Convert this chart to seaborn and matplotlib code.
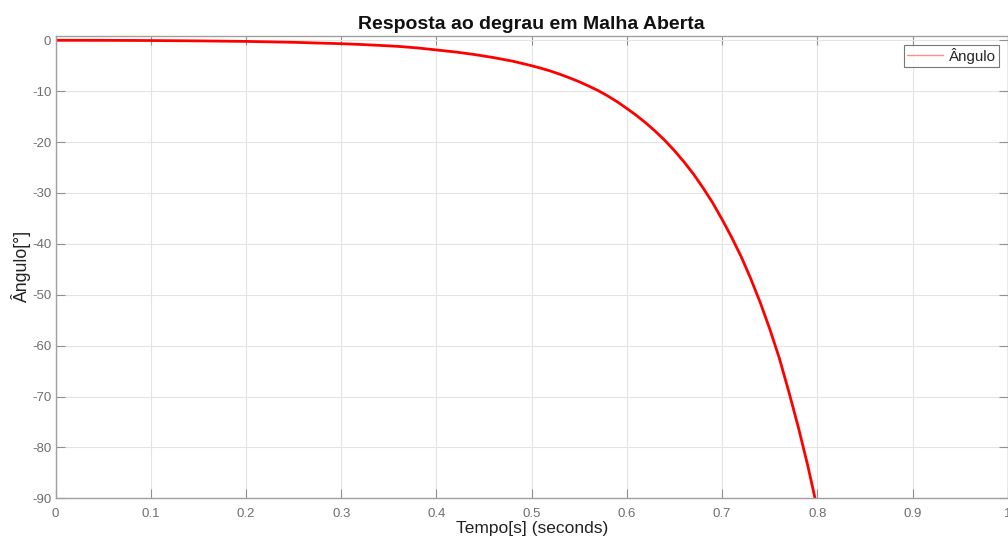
import numpy as np
import pandas as pd
import matplotlib
matplotlib.use("Agg")
import matplotlib.pyplot as plt
import seaborn as sns

# Data read (and visually smoothed) from the reference picture
tempo = [0.0, 0.05, 0.10, 0.15, 0.20, 0.25, 0.30, 0.32, 0.34, 0.36, 0.38, 0.40,
         0.42, 0.44, 0.46, 0.48, 0.50, 0.51, 0.52, 0.53, 0.54, 0.55, 0.56, 0.57,
         0.58, 0.59, 0.60, 0.61, 0.62, 0.63, 0.64, 0.65, 0.66, 0.67, 0.68, 0.69,
         0.70, 0.71, 0.72, 0.73, 0.74, 0.75, 0.76, 0.77, 0.78, 0.79, 0.7976, 0.80]
angulo = [0.0, -0.01, -0.05, -0.12, -0.22, -0.40, -0.67, -0.82, -1.0, -1.2, -1.5, -1.9,
          -2.3, -2.8, -3.4, -4.1, -5.0, -5.5, -6.05, -6.7, -7.4, -8.15, -9.0, -9.9,
          -10.95, -12.1, -13.4, -14.76, -16.26, -17.9, -19.7, -21.7, -23.9, -26.3, -29.0, -31.9,
          -35.2, -38.7, -42.5, -46.8, -51.5, -56.7, -62.4, -69.0, -76.0, -83.6, -90.0, -92.3]

title = "Resposta ao degrau em Malha Aberta"
xlabel = "Tempo[s] (seconds)"
ylabel = "Ângulo[°]"
series_name = "Ângulo"
xticks = [0, 0.1, 0.2, 0.3, 0.4, 0.5, 0.6, 0.7, 0.8, 0.9, 1]
xticklabels = ["0", "0.1", "0.2", "0.3", "0.4", "0.5", "0.6", "0.7", "0.8", "0.9", "1"]
yticks = [0, -10, -20, -30, -40, -50, -60, -70, -80, -90]

sns.set_theme(style="white")
plt.rcParams['font.family'] = ['Liberation Sans', 'DejaVu Sans']

df = pd.DataFrame({"t": tempo, "y": angulo, "s": series_name})

fig = plt.figure(figsize=(10.08, 5.39), dpi=100)
ax = fig.add_axes([55.5/1008, 40.6/539, 952.3/1008, (498.4-35.7)/539])

sns.lineplot(data=df, x="t", y="y", hue="s", palette=["#ff0000"], linewidth=2.0,
             ax=ax, estimator=None, sort=False)

ax.set_xlim(0, 1)
ax.set_ylim(-90, 0.9)
ax.set_xticks(xticks)
ax.set_xticklabels(xticklabels)
ax.set_yticks(yticks)
ax.set_yticklabels([str(v) for v in yticks])

ax.grid(True, color="#e4e4e4", linewidth=0.8)
ax.set_axisbelow(True)
for sp in ax.spines.values():
    sp.set_visible(True)
    sp.set_color("#a0a0a0")
    sp.set_linewidth(1.0)

ax.tick_params(axis="both", which="both", direction="in", length=6.5, width=0.8,
               color="#909090", labelcolor="#6e6e6e", labelsize=9.5,
               top=True, right=True, bottom=True, left=True, pad=3)
ax.tick_params(axis="x", pad=7)

ax.set_xlabel(xlabel, fontsize=12.5, color="#222222", labelpad=0.5)
ax.set_ylabel(ylabel, fontsize=12.8, color="#222222", labelpad=1)
ax.set_title(title, fontsize=14, fontweight="bold", color="#111111", pad=5)

leg = ax.legend(loc="upper right", frameon=True, fontsize=10.8, handlelength=2.4,
                borderpad=0.2, handletextpad=0.4, borderaxespad=0.6, fancybox=False)
leg.get_frame().set_edgecolor("#555555")
leg.get_frame().set_linewidth(0.8)
for h in leg.get_lines():
    h.set_linewidth(1.0)
    h.set_alpha(0.45)

fig.savefig("out.png", dpi=100)
